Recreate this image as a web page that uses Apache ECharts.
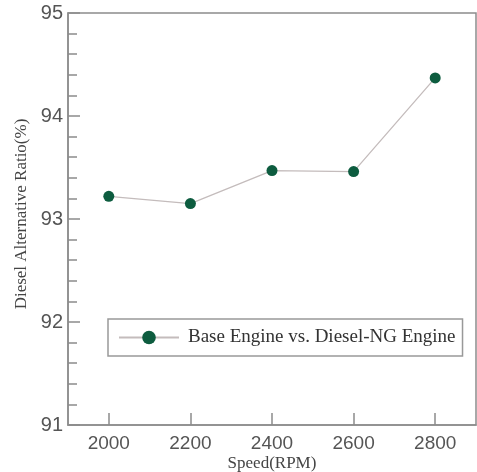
<!DOCTYPE html>
<html>
<head>
<meta charset="utf-8">
<script src="https://cdn.jsdelivr.net/npm/echarts@6/dist/echarts.min.js"></script>
<style>
html,body{margin:0;padding:0;background:#fff;}
#chart{width:477px;height:472px;}
</style>
</head>
<body>
<div id="chart"></div>
<script>
const speeds = [2000, 2200, 2400, 2600, 2800];
const ratio = [93.22, 93.15, 93.47, 93.46, 94.37];
const xTicks = [2000, 2200, 2400, 2600, 2800];
const seriesName = 'Base Engine vs. Diesel-NG Engine';

const chart = echarts.init(document.getElementById('chart'), null, {renderer: 'canvas'});
const axisGray = '#8c8c8c';
chart.setOption({
  animation: false,
  backgroundColor: '#fff',
  grid: {
    left: 68, top: 13, right: 1, bottom: 47,
    outerBoundsMode: 'none', containLabel: false,
    show: true, borderColor: axisGray, borderWidth: 1.5
  },
  legend: {
    left: 108, top: 319,
    padding: [9, 7, 9, 10],
    borderColor: '#999', borderWidth: 1.5,
    itemWidth: 60, itemHeight: 17,
    textStyle: {fontFamily: 'Liberation Serif', fontSize: 19, color: '#333', padding: [0, 0, 0, 4]},
    data: [seriesName]
  },
  xAxis: {
    type: 'value', min: 1900, max: 2900,
    name: 'Speed(RPM)', nameLocation: 'middle', nameGap: 30, nameMoveOverlap: false,
    nameTextStyle: {fontFamily: 'Liberation Serif', fontSize: 17, color: '#444'},
    axisLine: {show: true, lineStyle: {color: axisGray, width: 1.5}},
    axisTick: {show: true, inside: true, length: 12, customValues: xTicks, lineStyle: {color: axisGray, width: 1.5}},
    axisLabel: {customValues: xTicks, margin: 9, fontFamily: 'Liberation Sans', fontSize: 19, color: '#555',
      formatter: v => String(v)},
    splitLine: {show: false}
  },
  yAxis: {
    type: 'value', min: 91, max: 95, interval: 1,
    name: 'Diesel Alternative Ratio(%)', nameLocation: 'middle', nameGap: 38, nameMoveOverlap: false,
    nameTextStyle: {fontFamily: 'Liberation Serif', fontSize: 17, color: '#444', padding: [0, 0, 0, 10]},
    axisLine: {show: true, lineStyle: {color: axisGray, width: 1.5}},
    axisTick: {show: true, inside: true, length: 12, lineStyle: {color: axisGray, width: 1.5}},
    minorTick: {show: true, splitNumber: 5, length: 9, lineStyle: {color: axisGray, width: 1.5}},
    axisLabel: {margin: 5, fontFamily: 'Liberation Sans', fontSize: 20, color: '#555'},
    splitLine: {show: false}
  },
  series: [{
    name: seriesName,
    type: 'line',
    data: speeds.map((s, i) => [s, ratio[i]]),
    symbol: 'circle', symbolSize: 11,
    itemStyle: {color: '#0d5c3f'},
    lineStyle: {color: '#c4bcbc', width: 1.3}
  }]
});
</script>
</body>
</html>
